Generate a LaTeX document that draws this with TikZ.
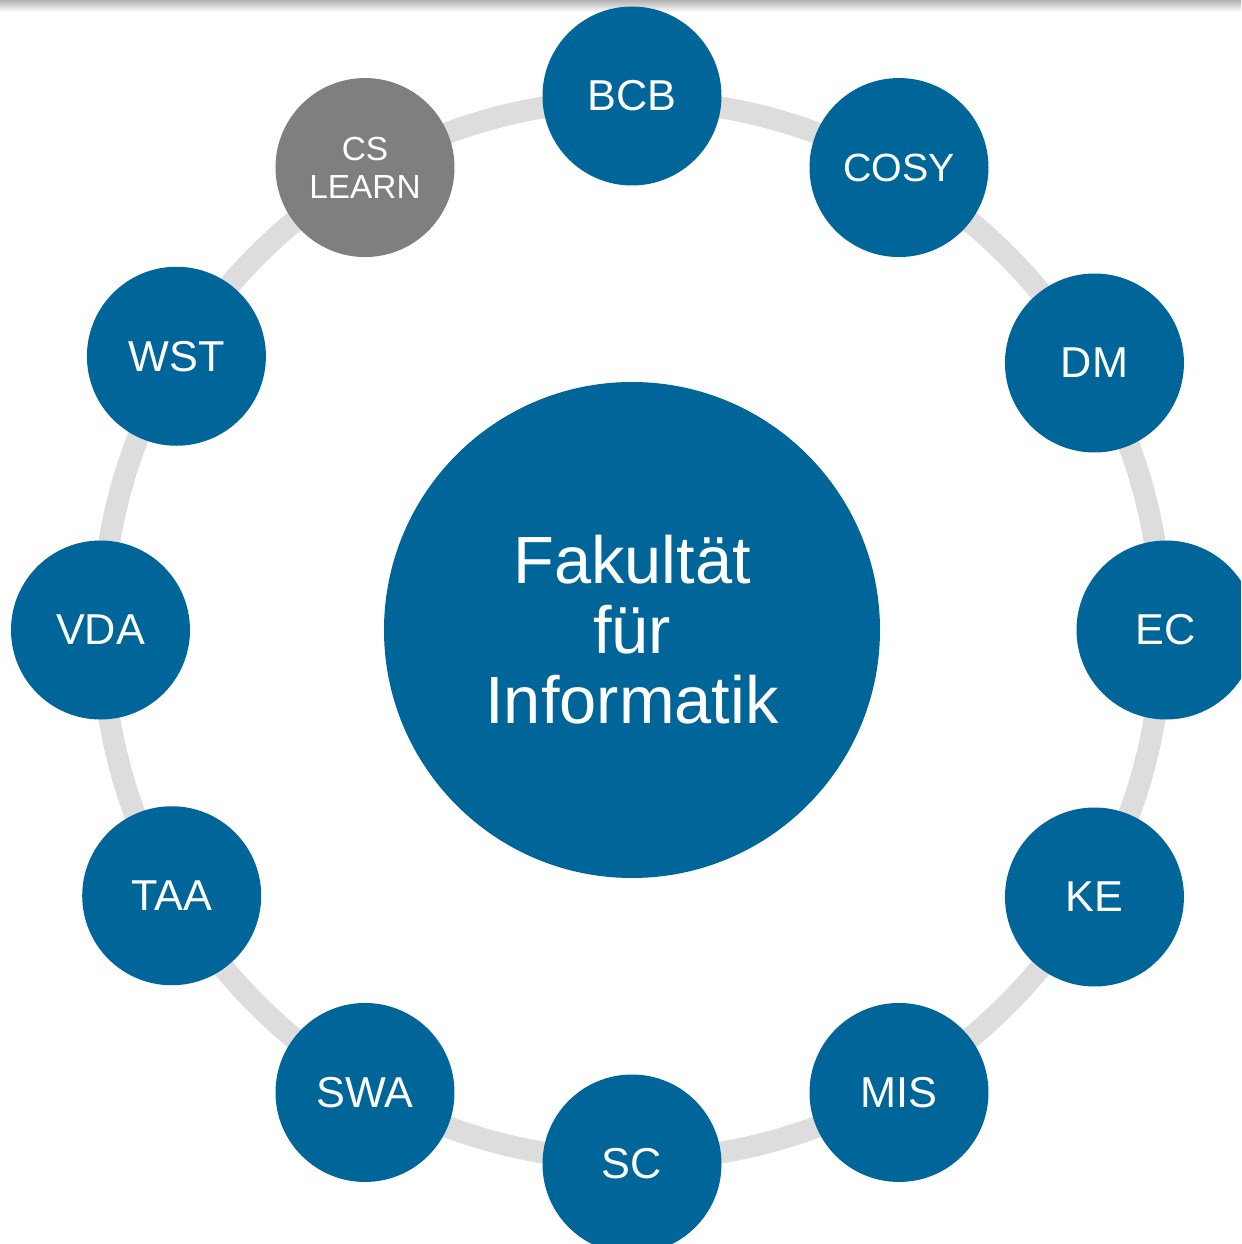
\documentclass[tikz,border=0pt]{standalone}
\usepackage{fontspec}
\setmainfont{Liberation Sans}
\definecolor{facblue}{RGB}{0,102,153}
\definecolor{learngray}{RGB}{127,127,127}
\definecolor{ringgray}{RGB}{221,221,221}

\begin{document}
\begin{tikzpicture}[chair/.style={circle, fill=facblue, text=white, minimum size=1.79cm, inner sep=0pt, align=center, font=\fontsize{12.3}{14}\selectfont},
    faculty/.style={circle, fill=facblue, text=white, minimum size=4.96cm, inner sep=0pt, align=center, font=\fontsize{19}{19.9}\selectfont},
    ring/.style={draw=ringgray, line width=6.2pt}]
    \useasboundingbox (-6.32,-6.14) rectangle (6.09,6.30);
    \clip (-6.32,-6.14) rectangle (6.09,6.30);
    \shade[top color=black!30, bottom color=white] (-6.32,6.18) rectangle (6.09,6.30);
    \coordinate (mid) at (0,0);
    \draw[ring] (mid) circle (5.30);
    \node[faculty] (fak) at (mid) {Fakultät\\für\\Informatik};
    \foreach \name/\ang/\r in {BCB/90/5.34, DM/30/5.34, EC/0/5.34, KE/-30/5.34, MIS/-60/5.34, SC/-90/5.34, SWA/-120/5.34, TAA/-150/5.315, VDA/180/5.315, WST/149/5.315}
        \node[chair] (\name) at (\ang:\r) {\name};
    \node[chair, font=\fontsize{11.2}{13}\selectfont] (COSY) at (60:5.34) {COSY};
    \node[chair, fill=learngray, font=\fontsize{9.5}{10.9}\selectfont] (CSLEARN) at (120:5.34) {CS\\LEARN};
\end{tikzpicture}
\end{document}
